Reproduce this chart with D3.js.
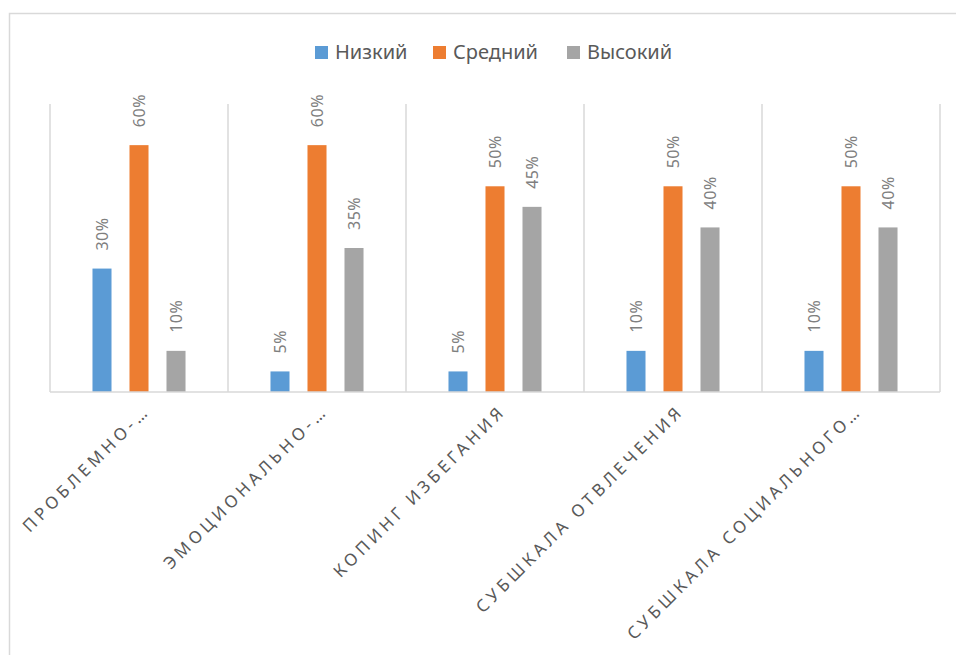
<!DOCTYPE html>
<html>
<head>
<meta charset="utf-8">
<script src="https://cdn.jsdelivr.net/npm/d3@7"></script>
<style>
  body { margin: 0; background: #fff; }
  svg { display: block; font-family: "Noto Sans", sans-serif; }
</style>
</head>
<body>
<svg id="chart" width="956" height="655"></svg>
<script>
// data
var categories = ["ПРОБЛЕМНО-…", "ЭМОЦИОНАЛЬНО-…", "КОПИНГ ИЗБЕГАНИЯ", "СУБШКАЛА ОТВЛЕЧЕНИЯ", "СУБШКАЛА СОЦИАЛЬНОГО…"];
var seriesNames = ["Низкий", "Средний", "Высокий"];
var nizkiy  = [0.30, 0.05, 0.05, 0.10, 0.10];
var sredniy = [0.60, 0.60, 0.50, 0.50, 0.50];
var vysokiy = [0.10, 0.35, 0.45, 0.40, 0.40];
var seriesValues = [nizkiy, sredniy, vysokiy];
var colors = ["#5b9bd5", "#ed7d31", "#a5a5a5"];

var svg = d3.select("#chart");
var plot = {left: 50, right: 940, top: 104, bottom: 392};

// outer frame (clipped at right/bottom like the screenshot)
svg.append("rect")
  .attr("x", 9.5).attr("y", 13.5)
  .attr("width", 1000).attr("height", 700)
  .attr("fill", "none")
  .attr("stroke", "#d9d9d9")
  .attr("stroke-width", 1.5);

var x0 = d3.scaleBand()
  .domain(categories)
  .range([plot.left, plot.right])
  .padding(0);

var x1 = d3.scaleBand()
  .domain(seriesNames)
  .range([0, x0.bandwidth()])
  .paddingInner(0.486)
  .paddingOuter(1.148);

var y = d3.scaleLinear()
  .domain([0, 0.7])
  .range([plot.bottom, plot.top]);

// vertical category gridlines
var bounds = categories.map(function(c) { return x0(c); }).concat([plot.right]);
svg.append("g").selectAll("line")
  .data(bounds)
  .enter().append("line")
  .attr("x1", function(d) { return d; })
  .attr("x2", function(d) { return d; })
  .attr("y1", y(0.7))
  .attr("y2", y(0))
  .attr("stroke", "#d9d9d9")
  .attr("stroke-width", 1.5);

// bars
var rows = [];
categories.forEach(function(c, i) {
  seriesNames.forEach(function(s, j) {
    rows.push({cat: c, series: s, value: seriesValues[j][i], color: colors[j]});
  });
});

var g = svg.append("g");
g.selectAll("rect")
  .data(rows)
  .enter().append("rect")
  .attr("x", function(d) { return x0(d.cat) + x1(d.series); })
  .attr("y", function(d) { return y(d.value); })
  .attr("width", x1.bandwidth())
  .attr("height", function(d) { return y(0) - y(d.value); })
  .attr("fill", function(d) { return d.color; });

// value labels, rotated
g.selectAll("text.val")
  .data(rows)
  .enter().append("text")
  .attr("class", "val")
  .attr("transform", function(d) {
    var cx = x0(d.cat) + x1(d.series) + x1.bandwidth() / 2;
    return "translate(" + (cx + 6) + "," + (y(d.value) - 18) + ") rotate(-90)";
  })
  .attr("text-anchor", "start")
  .attr("fill", "#7f7f7f")
  .style("font-size", "16px")
  .style("letter-spacing", "0.5px")
  .text(function(d) { return Math.round(d.value * 100) + "%"; });

// axis baseline
svg.append("line")
  .attr("x1", plot.left).attr("x2", plot.right)
  .attr("y1", y(0)).attr("y2", y(0))
  .attr("stroke", "#d9d9d9")
  .attr("stroke-width", 1.5);

// category labels at -45 degrees
svg.append("g").selectAll("text")
  .data(categories)
  .enter().append("text")
  .attr("transform", function(d) {
    var cx = x0(d) + x0.bandwidth() / 2;
    return "translate(" + (cx + 12) + "," + 412 + ") rotate(-45)";
  })
  .attr("text-anchor", "end")
  .attr("fill", "#595959")
  .style("font-size", "17px")
  .style("letter-spacing", "4px")
  .text(function(d) { return d; });

// legend
var legendX = [315, 433, 567];
var legend = svg.append("g").selectAll("g")
  .data(seriesNames)
  .enter().append("g")
  .attr("transform", function(d, i) { return "translate(" + legendX[i] + ",46)"; });
legend.append("rect")
  .attr("width", 13).attr("height", 13)
  .attr("fill", function(d, i) { return colors[i]; });
legend.append("text")
  .attr("x", 20).attr("y", 13)
  .attr("fill", "#595959")
  .style("font-size", "20px")
  .text(function(d) { return d; });
</script>
</body>
</html>
